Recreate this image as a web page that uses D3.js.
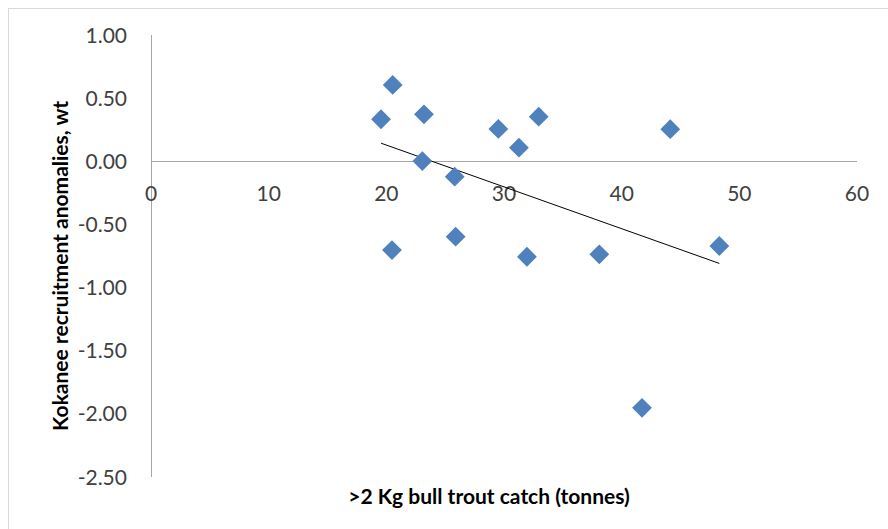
<!DOCTYPE html>
<html>
<head>
<meta charset="utf-8">
<script src="https://cdn.jsdelivr.net/npm/d3@7"></script>
<style>
  html, body { margin: 0; padding: 0; background: #fff; }
  svg { display: block; }
  text { font-family: Lato, "Open Sans", sans-serif; }
</style>
</head>
<body>
<svg id="chart" width="888" height="529"></svg>
<script>
// Data
const catchTonnes = [19.55, 20.54, 23.20, 23.06, 25.81, 20.48, 25.89, 29.52, 31.27, 32.95, 31.95, 38.10, 44.13, 48.30, 41.73];
const anomalies   = [0.333, 0.605, 0.372, 0.002, -0.122, -0.703, -0.597, 0.256, 0.108, 0.353, -0.756, -0.737, 0.254, -0.671, -1.952];
const xTicks = [0, 10, 20, 30, 40, 50, 60];
const yTicks = [1.0, 0.5, 0.0, -0.5, -1.0, -1.5, -2.0, -2.5];
const xTitle = ">2 Kg bull trout catch (tonnes)";
const yTitle = "Kokanee recruitment anomalies, wt";

const svg = d3.select("#chart");

// chart border
svg.append("rect").attr("x", 8.5).attr("y", 8.5).attr("width", 900).attr("height", 540)
  .attr("fill", "#fff").attr("stroke", "#d9d9d9").attr("stroke-width", 1);

const x = d3.scaleLinear().domain([0, 60]).range([151, 857]);
const y = d3.scaleLinear().domain([-2.5, 1.0]).range([477, 35]);

// y axis line
svg.append("line").attr("x1", x(0)).attr("x2", x(0)).attr("y1", y(1.0)).attr("y2", y(-2.5))
  .attr("stroke", "#a6a6a6").attr("stroke-width", 1).attr("shape-rendering", "crispEdges");
// x axis line at y=0
svg.append("line").attr("x1", x(0)).attr("x2", x(60)).attr("y1", y(0)).attr("y2", y(0))
  .attr("stroke", "#a6a6a6").attr("stroke-width", 1).attr("shape-rendering", "crispEdges");

const fmtY = d => d3.format(".2f")(d).replace("\u2212", "-");

// tick labels
svg.append("g").selectAll("text").data(yTicks).join("text")
  .attr("x", 127).attr("y", d => y(d)).attr("dy", "0.36em")
  .attr("text-anchor", "end").attr("font-size", 21).attr("fill", "#404040")
  .text(fmtY);

svg.append("g").selectAll("text").data(xTicks).join("text")
  .attr("x", d => x(d)).attr("y", 193).attr("dy", "0.36em")
  .attr("text-anchor", "middle").attr("font-size", 21).attr("fill", "#404040")
  .text(d => d);

// trendline (least squares)
const n = catchTonnes.length;
const mx = d3.mean(catchTonnes), my = d3.mean(anomalies);
let sxy = 0, sxx = 0;
for (let i = 0; i < n; i++) { sxy += (catchTonnes[i]-mx)*(anomalies[i]-my); sxx += (catchTonnes[i]-mx)**2; }
const slope = sxy / sxx, icpt = my - slope * mx;
const x0 = d3.min(catchTonnes), x1 = d3.max(catchTonnes);
svg.append("line")
  .attr("x1", x(x0)).attr("y1", y(icpt + slope*x0))
  .attr("x2", x(x1)).attr("y2", y(icpt + slope*x1))
  .attr("stroke", "#000").attr("stroke-width", 1);

// diamonds
const sym = d3.symbol().type(d3.symbolDiamond2).size(250);
svg.append("g").selectAll("path").data(catchTonnes.map((c, i) => [c, anomalies[i]])).join("path")
  .attr("transform", d => `translate(${x(d[0])},${y(d[1])})`)
  .attr("d", sym).attr("fill", "#4f81bd");

// axis titles
svg.append("text").attr("x", 489).attr("y", 496).attr("dy", "0.36em")
  .attr("text-anchor", "middle").attr("font-size", 21).attr("font-weight", "bold").attr("fill", "#000")
  .text(xTitle);
svg.append("text").attr("transform", "translate(60,266) rotate(-90)").attr("dy", "0.36em")
  .attr("text-anchor", "middle").attr("font-size", 21).attr("font-weight", "bold").attr("fill", "#000")
  .text(yTitle);
</script>
</body>
</html>
